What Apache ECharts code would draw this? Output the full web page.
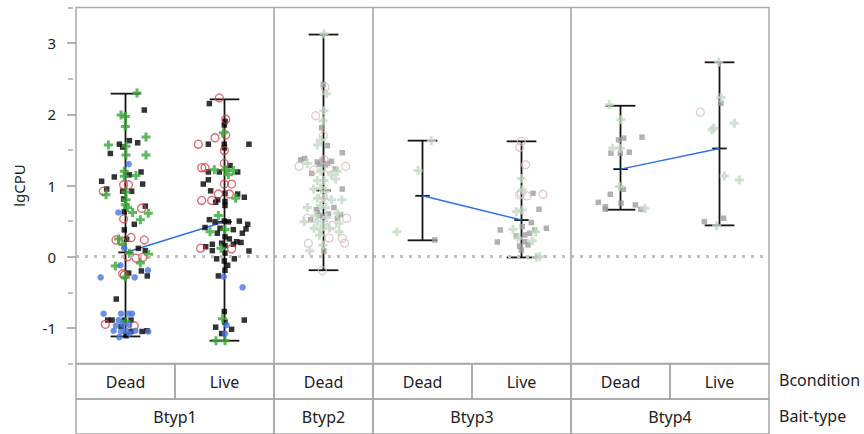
<!DOCTYPE html>
<html>
<head>
<meta charset="utf-8">
<script src="https://cdn.jsdelivr.net/npm/echarts@6/dist/echarts.min.js"></script>
<style>
  html, body { margin: 0; padding: 0; background: #fff; }
  #chart { width: 864px; height: 434px; }
</style>
</head>
<body>
<div id="chart"></div>
<script>
// columns: Btyp1 Dead, Btyp1 Live, Btyp2 Dead, Btyp3 Dead, Btyp3 Live, Btyp4 Dead, Btyp4 Live
const conditions = ['Dead', 'Live', 'Dead', 'Dead', 'Live', 'Dead', 'Live'];
const baitTypes = ['Btyp1', 'Btyp2', 'Btyp3', 'Btyp4'];
const baitSpans = [2, 1, 2, 2];
const yTicks = [-1, 0, 1, 2, 3];
const yMinorTicks = [-1.5, -0.5, 0.5, 1.5, 2.5, 3.5];

// range bars (min / max) and means per column
const rangeMin = [-1.12, -1.18, -0.19, 0.23, -0.01, 0.66, 0.44];
const rangeMax = [2.29, 2.21, 3.12, 1.63, 1.62, 2.12, 2.73];
const means = [0.06, 0.49, 0.93, 0.855, 0.515, 1.23, 1.52];
const meanLinks = [[0, 1], [3, 4], [5, 6]];

// points: [column position with jitter, lgCPU]
const btyp1Squares = [
  [0.539,1.63],[0.623,1.60],[0.438,1.58],[0.471,1.54],[0.347,1.45],[0.69,2.06],[0.657,1.19],[0.387,1.12],
  [0.539,1.15],[0.259,1.06],[0.673,1.02],[0.31,0.95],[0.471,0.92],[0.562,0.92],[0.481,0.81],[0.70,0.71],
  [0.488,0.63],[0.589,0.455],[0.488,0.376],[0.512,0.245],[0.63,0.117],[0.70,0.085],[0.66,-0.2],[0.532,-0.23],
  [0.72,-0.27],[0.407,-0.595],[0.32,-0.89],[0.364,-0.89],[0.488,-0.89],[0.556,-0.89],[0.455,-0.98],
  [0.667,-1.05],[0.717,-1.04],[0.505,-1.11],[0.556,-1.05],
  [1.347,2.15],[1.505,1.90],[1.498,1.85],[1.337,1.58],[1.498,1.58],[1.747,1.58],[1.498,1.53],[1.337,1.19],
  [1.448,1.19],[1.556,1.28],[1.633,1.19],[1.337,1.08],[1.286,1.02],[1.36,0.925],[1.505,0.89],[1.633,0.88],
  [1.70,0.835],[1.431,0.80],[1.505,0.775],[1.411,0.765],[1.505,0.72],[1.347,0.52],[1.404,0.49],[1.498,0.50],
  [1.539,0.49],[1.65,0.50],[1.734,0.455],[1.303,0.41],[1.455,0.40],[1.589,0.38],[1.717,0.39],[1.428,0.33],
  [1.68,0.33],[1.505,0.28],[1.549,0.25],[1.623,0.21],[1.667,0.20],[1.377,0.175],[1.471,0.19],[1.505,0.155],
  [1.589,0.175],[1.31,0.14],[1.377,0.085],[1.747,0.08],[1.505,0.05],[1.421,-0.03],[1.498,-0.06],[1.599,-0.03],
  [1.532,-0.12],[1.505,-0.19],[1.438,-0.27],[1.498,-0.77],[1.70,-0.89],[1.505,-0.92],[1.411,-0.99],
  [1.572,-1.02],[1.471,-1.08]
];
const btyp1Circles = [
  [0.481,1.01],[0.529,1.01],[0.276,0.92],[0.663,0.68],[0.481,0.53],[0.404,0.235],[0.461,0.22],[0.556,0.27],
  [0.69,0.235],[0.522,0.0],[0.606,-0.02],[0.673,-0.01],[0.471,-0.24],[0.488,-0.26],[0.296,-0.95],[0.589,-0.97],
  [1.448,2.23],[1.512,1.93],[1.512,1.71],[1.404,1.67],[1.236,1.58],[1.498,1.49],[1.498,1.31],[1.269,1.25],
  [1.303,1.25],[1.498,1.02],[1.572,1.02],[1.438,0.88],[1.549,0.88],[1.269,0.79],[1.37,0.79],[1.259,0.12],
  [1.572,0.11]
];
const btyp1Plus = [
  [0.616,2.30],[0.455,1.99],[0.498,1.97],[0.498,1.83],[0.707,1.68],[0.327,1.57],[0.505,1.55],[0.505,1.43],
  [0.707,1.43],[0.488,1.20],[0.606,1.14],[0.488,1.13],[0.303,0.87],[0.505,0.91],[0.505,0.80],[0.498,0.73],
  [0.522,0.69],[0.572,0.62],[0.73,0.61],[0.65,0.52],[0.431,0.25],[0.471,0.175],[0.539,0.05],[0.734,0.034],
  [0.65,-0.09],[0.397,-0.13],[0.498,-0.29],[0.505,-0.91],
  [1.488,1.74],[1.397,1.22],[1.512,1.22],[1.589,1.21],[1.539,1.15],[1.613,0.82],[1.438,0.58],[1.354,0.35],
  [1.505,0.38],[1.465,0.12],[1.481,-0.87],[1.414,-1.18],[1.505,-1.18]
];
const btyp1Dots = [
  [0.532,1.30],[0.428,0.62],[0.488,0.117],[0.448,-0.12],[0.727,-0.19],[0.249,-0.29],[0.593,-0.29],
  [0.279,-0.80],[0.455,-0.80],[0.532,-0.80],[0.566,-0.80],[0.431,-0.89],[0.404,-0.97],[0.471,-0.95],
  [0.539,-0.96],[0.38,-1.04],[0.455,-1.05],[0.505,-1.04],[0.6,-1.04],[0.73,-1.05],[0.438,-1.13],[0.539,-1.08],
  [1.492,-0.28],[1.683,-0.43],[1.522,-0.96],[1.505,-1.08]
];
const otherSquares = [
  [2.498,2.42],[2.481,1.81],[2.539,1.56],[2.69,1.46],[2.269,1.36],[2.31,1.38],[2.438,1.33],[2.488,1.36],
  [2.539,1.31],[2.623,1.23],[2.38,1.17],[2.69,0.95],[2.428,0.66],[2.606,0.69],[2.673,0.59],[2.455,0.58],
  [2.495,0.56],[2.37,0.52],[2.64,0.54],[2.505,0.08],[2.46,1.30],[2.52,1.29],[2.58,1.34],[2.44,0.62],[2.55,0.60],
  [3.623,0.235],
  [4.616,0.89],[4.677,0.666],[4.599,0.479],[4.751,0.399],[4.286,0.376],[4.508,0.422],[4.633,0.376],
  [4.448,0.291],[4.532,0.305],[4.582,0.329],[4.256,0.207],[4.532,0.211],[4.481,0.15],[4.566,0.165],[4.498,0.094],
  [5.481,1.641],[5.532,1.665],[5.717,1.679],[5.404,1.454],[5.498,1.454],[5.589,1.468],[5.529,0.947],
  [5.397,0.877],[5.276,0.764],[5.505,0.75],[5.65,0.727],[5.347,0.666],[5.347,0.70],[5.707,0.666],
  [6.515,2.157],[6.347,0.493],[6.542,0.54]
];
const otherCircles = [
  [2.515,2.38],[2.421,1.98],[2.498,1.70],[2.253,1.27],[2.505,1.36],[2.724,1.27],[2.556,1.24],[2.404,1.22],
  [2.498,0.85],[2.337,0.54],[2.734,0.54],[2.589,0.44],[2.556,0.26],[2.69,0.26],[2.714,0.19],[2.347,0.19],
  [2.488,-0.196],
  [4.498,1.618],[4.481,1.538],[4.542,1.29],[4.481,0.868],[4.556,0.854],[4.717,0.877],[4.498,0.89],
  [6.306,2.03]
];
const otherPlus = [
  [2.505,3.13],[2.532,2.29],[2.505,2.05],[2.495,1.91],[2.471,1.64],[2.438,1.57],[2.337,1.31],[2.64,1.20],
  [2.471,1.20],[2.438,1.07],[2.623,1.09],[2.505,1.07],[2.471,0.97],[2.505,0.82],[2.438,0.82],[2.579,0.80],
  [2.684,0.80],[2.337,0.69],[2.522,0.69],[2.64,0.61],[2.303,0.49],[2.438,0.49],[2.505,0.45],[2.657,0.47],
  [2.404,0.40],[2.471,0.38],[2.657,0.35],[2.495,0.165],[2.36,0.085],[2.47,0.72],[2.53,0.55],[2.42,0.58],
  [2.56,0.40],[2.46,0.30],[2.52,0.92],[2.40,0.95],[2.58,1.15],
  [3.589,1.627],[3.455,1.21],[3.242,0.352],
  [4.498,1.10],[4.508,0.938],[4.448,0.633],[4.508,0.657],[4.414,0.385],[4.643,0.352],[4.465,0.258],
  [4.609,0.225],[4.65,-0.009],[4.684,0.0],
  [5.387,2.133],[5.505,1.922],[5.421,1.524],[5.498,1.524],[5.488,0.985],[5.747,0.68],
  [6.492,2.733],[6.515,2.237],[6.441,1.805],[6.65,1.875],[6.424,1.782],[6.549,1.135],[6.70,1.079],[6.471,0.436]
];

const FONT = 'Noto Sans';
const PLUS = 'path://M3,0H6V3H9V6H6V9H3V6H0V3H3Z';
const CAP = 0.15, MEAN_TICK = 0.073;

// table cells under the plot: [x0, x1, row]
const cells = [];
const cellText = [];
conditions.forEach((c, i) => { cells.push([i, i + 1, 0]); cellText.push(c); });
let acc = 0;
baitTypes.forEach((b, i) => { cells.push([acc, acc + baitSpans[i], 1]); cellText.push(b); acc += baitSpans[i]; });

function scatter(name, data, symbol, size, style, z) {
  return {
    name, type: 'scatter', xAxisIndex: 0, yAxisIndex: 0, data,
    symbol, symbolSize: size, itemStyle: style, z: z || 3, silent: true
  };
}

var chart = echarts.init(document.getElementById('chart'), null, { renderer: 'svg' });

const series = [
  {
    type: 'custom', xAxisIndex: 0, yAxisIndex: 0, z: 2, silent: true,
    data: rangeMin.map((v, i) => [i + 0.5, v, rangeMax[i], means[i]]),
    encode: { x: 0, y: [1, 2] },
    renderItem(params, api) {
      const c = api.value(0), lo = api.value(1), hi = api.value(2), m = api.value(3);
      const st = { stroke: '#161616', lineWidth: 1.8 };
      const seg = (a, b) => ({ type: 'line', shape: { x1: a[0], y1: a[1], x2: b[0], y2: b[1] }, style: st });
      return {
        type: 'group',
        children: [
          seg(api.coord([c, lo]), api.coord([c, hi])),
          seg(api.coord([c - CAP, hi]), api.coord([c + CAP, hi])),
          seg(api.coord([c - CAP, lo]), api.coord([c + CAP, lo])),
          seg(api.coord([c - MEAN_TICK, m]), api.coord([c + MEAN_TICK, m]))
        ]
      };
    },
    markLine: {
      silent: true, symbol: 'none', animation: false, label: { show: false },
      data: [
        { yAxis: 0, lineStyle: { type: [3, 6], color: '#c0c0c0', width: 3 } },
        { xAxis: 2, lineStyle: { type: 'solid', color: '#a0a0a0', width: 1.5 } },
        { xAxis: 3, lineStyle: { type: 'solid', color: '#a0a0a0', width: 1.5 } },
        { xAxis: 5, lineStyle: { type: 'solid', color: '#a0a0a0', width: 1.5 } }
      ]
    }
  }
];

meanLinks.forEach(([a, b]) => {
  series.push({
    type: 'line', xAxisIndex: 0, yAxisIndex: 0, z: 2, silent: true,
    data: [[a + 0.5, means[a]], [b + 0.5, means[b]]],
    symbol: 'none', lineStyle: { color: '#2f6fe8', width: 1.5 }
  });
});

series.push(
  scatter('sq1', btyp1Squares, 'rect', 5.5, { color: '#000' }),
  scatter('sq2', otherSquares, 'rect', 5.5, { color: '#9e9e9e' }),
  scatter('ci1', btyp1Circles, 'circle', 8, { color: 'rgba(0,0,0,0)', borderColor: '#d6404c', borderWidth: 1.3 }),
  scatter('ci2', otherCircles, 'circle', 8, { color: 'rgba(0,0,0,0)', borderColor: '#dcbcc2', borderWidth: 1.3 }),
  scatter('pl1', btyp1Plus, PLUS, 9, { color: '#34a835' }),
  scatter('pl2', otherPlus, PLUS, 9, { color: '#c6d9c6' }),
  scatter('dot', btyp1Dots, 'circle', 6.5, { color: '#4677e0' })
);

series.push({
  type: 'custom', xAxisIndex: 1, yAxisIndex: 2, silent: true, clip: false,
  data: cells, encode: { x: [0, 1], y: 2 },
  renderItem(params, api) {
    const p0 = api.coord([api.value(0), api.value(2)]);
    const p1 = api.coord([api.value(1), api.value(2) + 1]);
    return {
      type: 'group',
      children: [
        { type: 'rect', shape: { x: p0[0], y: p0[1], width: p1[0] - p0[0], height: p1[1] - p0[1] },
          style: { fill: 'none', stroke: '#a8a8a8', lineWidth: 1.5 } },
        { type: 'text', x: (p0[0] + p1[0]) / 2, y: (p0[1] + p1[1]) / 2,
          style: { text: cellText[params.dataIndex], font: '16px "' + FONT + '"', fill: '#222',
                   align: 'center', verticalAlign: 'middle' } }
      ]
    };
  }
});

const option = {
  animation: false,
  grid: [
    { left: 76, right: 95, top: 7.5, bottom: 70.5, show: true, borderColor: '#aaaaaa', borderWidth: 1.5 },
    { left: 76, right: 95, top: 364, height: 70 }
  ],
  xAxis: [
    { gridIndex: 0, type: 'value', min: 0, max: 7, show: false },
    { gridIndex: 1, type: 'value', min: 0, max: 7, show: false }
  ],
  yAxis: [
    {
      gridIndex: 0, type: 'value', min: -1.5, max: 3.5, position: 'left', offset: 3,
      axisLine: { show: false }, splitLine: { show: false },
      axisTick: { show: true, customValues: yTicks, length: 9, lineStyle: { color: '#999', width: 1.5 } },
      axisLabel: { customValues: yTicks, margin: 17, color: '#222', fontSize: 15, fontFamily: FONT },
      name: 'lgCPU', nameLocation: 'middle', nameGap: 47,
      nameTextStyle: { color: '#222', fontSize: 15, fontFamily: FONT }
    },
    {
      gridIndex: 0, type: 'value', min: -1.5, max: 3.5, position: 'left', offset: 3,
      axisLine: { show: false }, splitLine: { show: false },
      axisTick: { show: true, customValues: yMinorTicks, length: 5, lineStyle: { color: '#aaa', width: 1.5 } },
      axisLabel: { show: false }
    },
    { gridIndex: 1, type: 'value', min: 0, max: 2, inverse: true, show: false }
  ],
  graphic: [
    { type: 'text', left: 779, top: 372, style: { text: 'Bcondition', font: '16px "' + FONT + '"', fill: '#222' } },
    { type: 'text', left: 779, top: 408, style: { text: 'Bait-type', font: '16px "' + FONT + '"', fill: '#222' } }
  ],
  series
};

chart.setOption(option);
</script>
</body>
</html>
